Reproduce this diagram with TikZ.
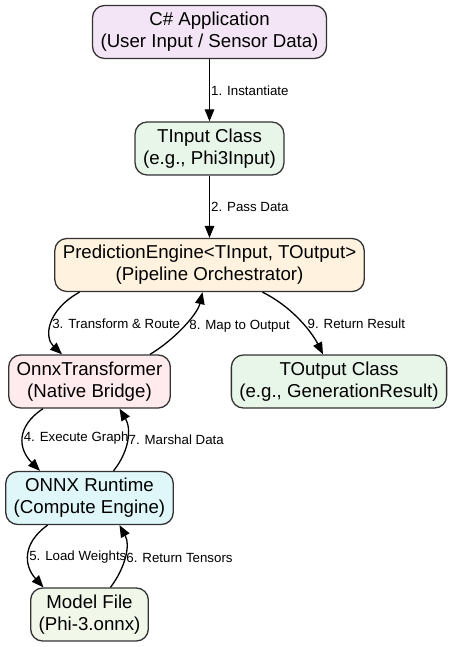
\documentclass[tikz,border=0pt]{standalone}
\usepackage{fontspec}
\setmainfont{Liberation Sans}
\usetikzlibrary{shapes,positioning,arrows.meta}
\definecolor{appfill}{HTML}{F3E5F5}
\definecolor{classfill}{HTML}{E8F5E9}
\definecolor{enginefill}{HTML}{FFF3E0}
\definecolor{bridgefill}{HTML}{FFEBEE}
\definecolor{runtimefill}{HTML}{E0F7FA}
\definecolor{modelfill}{HTML}{F1F8E9}
\definecolor{edgegray}{HTML}{333333}
\tikzstyle{lbl} = [font=\fontsize{13.3pt}{15pt}\selectfont,inner sep=0pt,anchor=west]
\tikzstyle{flow} = [draw=black,line width=1.3pt,-{Triangle[length=12pt,width=9.5pt]}]

\begin{document}
\begin{tikzpicture}
		[
		x=1pt,y=1pt,
		node distance=116.5pt,
		block/.style={
		draw=edgegray,
		line width=1.3pt,
		rectangle,
		rounded corners=12pt,
		align=center,
		inner xsep=8pt,
		minimum height=53pt,
		font=\fontsize{18.67pt}{22pt}\selectfont}
		]
		\useasboundingbox (0,0) rectangle (451,-647);
		\node[block,fill=appfill](app) at (209.5,-32) {C\# Application\\(User Input / Sensor Data)};
		\node[block,fill=classfill,below of=app](tinput) {TInput Class\\(e.g., Phi3Input)};
		\node[block,fill=enginefill,below of=tinput](engine) {PredictionEngine<TInput, TOutput>\\(Pipeline Orchestrator)};
		\node[block,fill=bridgefill,below of=engine,xshift=-120pt](bridge) {OnnxTransformer\\(Native Bridge)};
		\node[block,fill=classfill,below of=engine,xshift=129.5pt](toutput) {TOutput Class\\(e.g., GenerationResult)};
		\node[block,fill=runtimefill,below of=bridge](runtime) {ONNX Runtime\\(Compute Engine)};
		\node[block,fill=modelfill,below of=runtime](model) {Model File\\(Phi-3.onnx)};

		\draw[flow] (app) -- node[lbl,xshift=1pt]{1. Instantiate} (tinput);
		\draw[flow] (tinput) -- node[lbl,xshift=1pt]{2. Pass Data} (engine);
		\draw[flow] ([xshift=-130pt]engine.south) .. controls +(-33,-18.5) and +(-18,17) .. node[lbl,xshift=0pt]{3. Transform \& Route} ([xshift=-27.5pt]bridge.north);
		\draw[flow] ([xshift=-46.5pt]bridge.south) .. controls +(-27,-18) and +(-22,22) .. node[lbl,xshift=0pt]{4. Execute Graph} ([xshift=-49.5pt]runtime.north);
		\draw[flow] ([xshift=-42pt]runtime.south) .. controls +(-25,-18) and +(-20,22) .. node[lbl,xshift=0pt,yshift=-2pt]{5. Load Weights} ([xshift=-46pt]model.north);
		\draw[flow] ([xshift=21pt]model.north) .. controls +(15,20) and +(11,-20) .. node[lbl,xshift=1pt,yshift=-2pt]{6. Return Tensors} ([xshift=30pt]runtime.south);
		\draw[flow] ([xshift=24pt]runtime.north) .. controls +(16,20) and +(12,-20) .. node[lbl,xshift=1pt]{7. Marshal Data} ([xshift=30pt]bridge.south);
		\draw[flow] ([xshift=60.5pt]bridge.north) .. controls +(25,15) and +(-5,-22) .. node[lbl,xshift=5pt]{8. Map to Output} ([xshift=-7pt]engine.south);
		\draw[flow] ([xshift=53pt]engine.south) .. controls +(32,-16) and +(-10,20) .. node[lbl,xshift=6pt,yshift=-2pt]{9. Return Result} ([xshift=-16pt]toutput.north);
		\end{tikzpicture}
\end{document}
